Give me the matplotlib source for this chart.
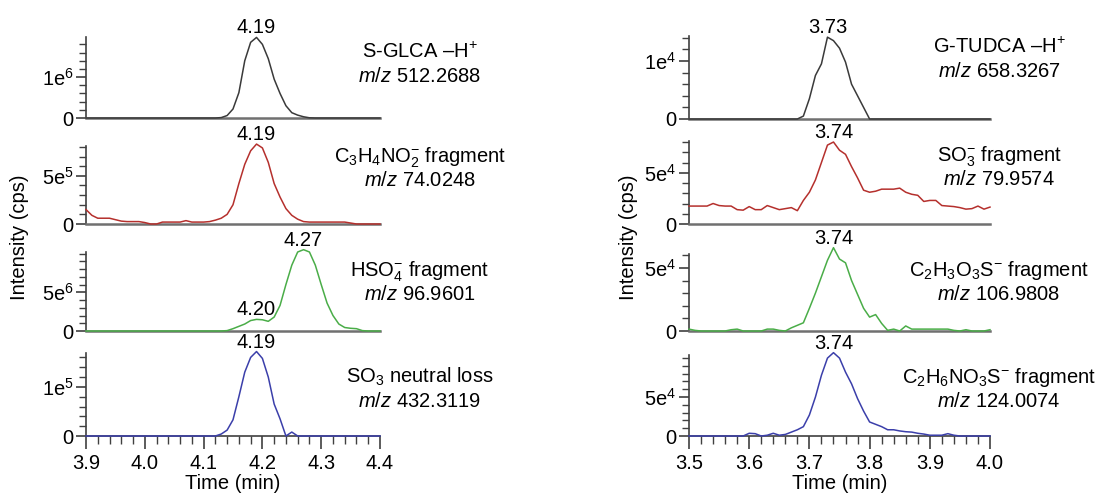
import numpy as np
import matplotlib
matplotlib.use("Agg")
from matplotlib import pyplot as plt
from matplotlib.ticker import MultipleLocator

plt.rcParams['font.family'] = ['Liberation Sans', 'DejaVu Sans']
plt.rcParams['mathtext.fontset'] = 'custom'
plt.rcParams['mathtext.rm'] = 'Liberation Sans'
plt.rcParams['mathtext.it'] = 'Liberation Sans:italic'
plt.rcParams['mathtext.bf'] = 'Liberation Sans:bold'

# time axes (min), one point every 0.01 min
time_left = np.arange(390, 441) / 100
time_right = np.arange(350, 401) / 100

# S-GLCA (left column)
sglca_parent = np.array([
    0, 0, 0, 0, 0, 0, 0, 0, 0, 0,
    0, 0, 0, 0, 0, 0, 0, 0, 0, 0,
    0, 0, 0, 0.01, 0.06, 0.22, 0.62, 1.40, 1.85, 1.97,
    1.80, 1.45, 0.95, 0.60, 0.30, 0.13, 0.07, 0.03, 0.005, 0,
    0, 0, 0, 0, 0, 0, 0, 0, 0, 0, 0]) * 1e6
sglca_c3h4no2 = np.array([
    1.5, 0.9, 0.6, 0.6, 0.6, 0.45, 0.3, 0.25, 0.25, 0.25,
    0.15, 0, 0, 0.2, 0.2, 0.2, 0.2, 0.35, 0.2, 0.2,
    0.2, 0.25, 0.4, 0.6, 1.0, 2.0, 4.2, 6.2, 7.6, 8.3,
    7.9, 6.4, 4.2, 2.8, 1.6, 0.9, 0.5, 0.25, 0.2, 0.2,
    0.2, 0.2, 0.2, 0.2, 0.2, 0.1, 0, 0, 0, 0, 0]) * 1e5
sglca_hso4 = np.array([
    0, 0, 0, 0, 0, 0, 0, 0, 0, 0,
    0, 0, 0, 0, 0, 0, 0, 0, 0, 0,
    0, 0, 0, 0, 0.05, 0.3, 0.6, 0.9, 1.35, 1.5,
    1.45, 1.25, 1.8, 3.3, 6.0, 8.5, 10.2, 10.5, 10.2, 8.5,
    6.0, 3.6, 2.0, 0.9, 0.45, 0.35, 0.3, 0.05, 0, 0, 0]) * 1e6
sglca_so3_loss = np.array([
    0, 0, 0, 0, 0, 0, 0, 0, 0, 0,
    0, 0, 0, 0, 0, 0, 0, 0, 0, 0,
    0, 0, 0, 0.04, 0.12, 0.33, 0.8, 1.3, 1.6, 1.72,
    1.58, 1.2, 0.65, 0.35, 0, 0.08, 0, 0, 0, 0,
    0, 0, 0, 0, 0, 0, 0, 0, 0, 0, 0]) * 1e5

# G-TUDCA (right column)
gtudca_parent = np.array([
    0, 0, 0, 0, 0, 0, 0, 0, 0, 0,
    0, 0, 0, 0, 0, 0, 0, 0, 0, 0.05,
    0.35, 0.75, 0.95, 1.41, 1.35, 1.22, 0.98, 0.6, 0.4, 0.2,
    0, 0, 0, 0, 0, 0, 0, 0, 0, 0,
    0, 0, 0, 0, 0, 0, 0, 0, 0, 0, 0]) * 1e4
gtudca_so3 = np.array([
    1.75, 1.75, 1.75, 1.75, 2.0, 1.8, 1.75, 1.75, 1.4, 1.35,
    1.7, 1.4, 1.4, 1.8, 1.6, 1.4, 1.5, 1.6, 1.3, 2.3,
    3.1, 4.3, 6.0, 7.7, 8.0, 7.2, 6.8, 5.6, 4.5, 3.3,
    3.1, 3.2, 3.4, 3.4, 3.4, 3.5, 3.1, 2.9, 2.8, 2.2,
    2.3, 2.3, 1.8, 1.75, 1.7, 1.6, 1.45, 1.5, 1.75, 1.45, 1.65]) * 1e4
gtudca_c2h3o3s = np.array([
    0.15, 0.05, 0, 0, 0, 0, 0, 0.1, 0.15, 0,
    0, 0, 0, 0.15, 0.15, 0.05, 0, 0.25, 0.45, 0.65,
    1.8, 3.0, 4.3, 5.6, 6.6, 5.7, 5.4, 4.0, 2.9, 1.8,
    1.1, 1.3, 0.6, 0.05, 0.15, 0, 0.4, 0.15, 0.15, 0.15,
    0.15, 0.15, 0.15, 0.15, 0.05, 0, 0.1, 0, 0, 0, 0.1]) * 1e4
gtudca_c2h6no3s = np.array([
    0, 0, 0, 0, 0, 0, 0, 0, 0, 0,
    0.35, 0.3, 0, 0.1, 0.35, 0.1, 0.2, 0.5, 0.8, 1.2,
    2.7, 5.0, 7.8, 10.0, 10.7, 10.0, 8.2, 6.7, 4.8, 3.2,
    1.8, 1.5, 1.2, 0.8, 0.8, 0.65, 0.55, 0.5, 0.35, 0.25,
    0.1, 0.1, 0.1, 0.3, 0.1, 0, 0, 0, 0, 0, 0]) * 1e4

colors = ['#3a3a3a', '#b5302d', '#4aad48', '#3b3faa']

left_names = ['S-GLCA \u2013H$^{+}$', 'C$_3$H$_4$NO$_2^{-}$ fragment',
              'HSO$_4^{-}$ fragment', 'SO$_3$ neutral loss']
left_mz = ['512.2688', '74.0248', '96.9601', '432.3119']
right_names = ['G-TUDCA \u2013H$^{+}$', 'SO$_3^{-}$ fragment',
               'C$_2$H$_3$O$_3$S$^{-}$ fragment', 'C$_2$H$_6$NO$_3$S$^{-}$ fragment']
right_mz = ['658.3267', '79.9574', '106.9808', '124.0074']

left_ticks = [(1e6, '1e$^{6}$', 2e5), (5e5, '5e$^{5}$', 1e5),
              (5e6, '5e$^{6}$', 1e6), (1e5, '1e$^{5}$', 2e4)]
right_ticks = [(1e4, '1e$^{4}$', 2e3), (5e4, '5e$^{4}$', 1e4),
               (5e4, '5e$^{4}$', 1e4), (5e4, '5e$^{4}$', 1e4)]
left_ytop = [1.98e6, 8.1e5, 1.02e7, 1.69e5]
right_ytop = [1.43e4, 8.1e4, 6.1e4, 1.04e5]

# peak labels: (text, time, value)
left_peaks = [[('4.19', 4.19, 1.97e6)], [('4.19', 4.19, 8.3e5)],
              [('4.27', 4.27, 1.05e7), ('4.20', 4.19, 1.5e6)], [('4.19', 4.19, 1.72e5)]]
right_peaks = [[('3.73', 3.73, 1.41e4)], [('3.74', 3.74, 8.0e4)],
               [('3.74', 3.74, 6.6e4)], [('3.74', 3.74, 1.07e5)]]

W, H = 1111, 494
fig = plt.figure(figsize=(W / 100, H / 100), dpi=100)

left_rows = [(37, 118), (146, 224), (252, 331), (353, 436)]
right_rows = [(36, 119), (141, 224), (254, 331), (355, 436)]
left_data = [sglca_parent, sglca_c3h4no2, sglca_hso4, sglca_so3_loss]
right_data = [gtudca_parent, gtudca_so3, gtudca_c2h3o3s, gtudca_c2h6no3s]

axcol = '#404040'
fs = 14.5


def make_panel(x0, w, rows, t, data, ticks, ytop, peaks, xlim, xticks):
    for i in range(4):
        top, zero = rows[i]
        ax = fig.add_axes([x0 / W, 1 - zero / H, w / W, (zero - top) / H])
        ax.plot(t, data[i], color=colors[i], lw=1.1, clip_on=False, zorder=3)
        ax.set_xlim(xlim)
        ax.set_ylim(0, ytop[i])
        for s in ['top', 'right']:
            ax.spines[s].set_visible(False)
        ax.spines['left'].set_color(axcol)
        ax.spines['bottom'].set_color('#707070')
        ax.spines['bottom'].set_linewidth(1.8)
        ax.spines['left'].set_linewidth(1.2)
        major, label, minor = ticks[i]
        ax.set_yticks([0, major])
        ax.set_yticklabels(['0', label])
        ax.yaxis.set_minor_locator(MultipleLocator(minor))
        ax.tick_params(axis='y', which='major', length=7, width=1.2, color=axcol,
                       labelsize=fs, pad=2)
        ax.tick_params(axis='y', which='minor', length=5, width=1.0, color=axcol)
        if i < 3:
            ax.tick_params(axis='x', which='both', bottom=False, labelbottom=False)
        else:
            ax.spines['bottom'].set_color(axcol)
            ax.spines['bottom'].set_linewidth(1.2)
            ax.set_xticks(xticks)
            ax.set_xticklabels(['%.1f' % v for v in xticks])
            ax.xaxis.set_minor_locator(MultipleLocator(0.02))
            ax.tick_params(axis='x', which='major', length=9, width=1.2, color=axcol,
                           labelsize=fs, pad=4)
            ax.tick_params(axis='x', which='minor', length=6, width=1.0, color=axcol)
            fig.text((x0 + w / 2) / W, 1 - 489 / H, 'Time (min)', ha='center',
                     va='baseline', fontsize=fs)
        for txt, pt, pv in peaks[i]:
            ax.annotate(txt, (pt, pv), xytext=(0, 0), textcoords='offset points',
                        ha='center', va='bottom', fontsize=fs, annotation_clip=False)


make_panel(86, 294, left_rows, time_left, left_data, left_ticks, left_ytop,
           left_peaks, (3.9, 4.4), [3.9, 4.0, 4.1, 4.2, 4.3, 4.4])
make_panel(689, 301, right_rows, time_right, right_data, right_ticks, right_ytop,
           right_peaks, (3.5, 4.0), [3.5, 3.6, 3.7, 3.8, 3.9, 4.0])

# compound / fragment captions
left_y = [52, 156, 270, 377]
right_y = [47, 155, 270, 377]
for i in range(4):
    fig.text(420 / W, 1 - (left_y[i] + 6) / H, left_names[i], ha='center',
             va='baseline', fontsize=fs)
    fig.text(420 / W, 1 - (left_y[i] + 30) / H, '$\\mathit{m/z}$ ' + left_mz[i],
             ha='center', va='baseline', fontsize=fs)
    fig.text(999 / W, 1 - (right_y[i] + 6) / H, right_names[i], ha='center',
             va='baseline', fontsize=fs)
    fig.text(999 / W, 1 - (right_y[i] + 30) / H, '$\\mathit{m/z}$ ' + right_mz[i],
             ha='center', va='baseline', fontsize=fs)

fig.text(20 / W, 1 - 237 / H, 'Intensity (cps)', rotation=90, ha='center',
         va='center', fontsize=fs)
fig.text(628 / W, 1 - 237 / H, 'Intensity (cps)', rotation=90, ha='center',
         va='center', fontsize=fs)

fig.savefig('out.png', dpi=100)
